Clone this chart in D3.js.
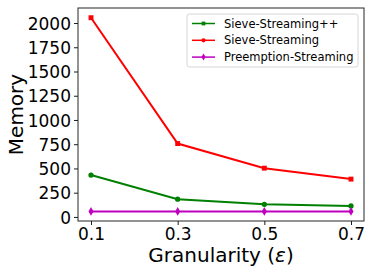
<!DOCTYPE html>
<html>
<head>
<meta charset="utf-8">
<script src="https://cdn.jsdelivr.net/npm/d3@7"></script>
<style>
  body { margin: 0; background: #fff; }
  text { font-family: "DejaVu Sans", sans-serif; }
</style>
</head>
<body>
<script>
// data
const granularity = [0.1, 0.3, 0.5, 0.7];
const tickLabels = ["0.1", "0.3", "0.5", "0.7"];
const sieveStreamingPP = [432, 183, 130, 113];
const sieveStreaming = [2055, 757, 503, 390];
const preemptionStreaming = [57, 57, 57, 57];
const yTicks = [0, 250, 500, 750, 1000, 1250, 1500, 1750, 2000];

const series = [
  { name: "Sieve-Streaming++", values: sieveStreamingPP, color: "#008000", marker: "circle", legendMarker: "square" },
  { name: "Sieve-Streaming", values: sieveStreaming, color: "#ff0000", marker: "square", legendMarker: "circle" },
  { name: "Preemption-Streaming", values: preemptionStreaming, color: "#bf00bf", marker: "diamond", legendMarker: "diamond" }
];

const width = 373, height = 273;
const margin = { left: 78, right: 9, top: 8, bottom: 52 };

const svg = d3.select("body").append("svg")
    .attr("width", width)
    .attr("height", height);

const x = d3.scaleLinear()
    .domain([0.07, 0.73])
    .range([margin.left, width - margin.right]);

const y = d3.scaleLinear()
    .domain([-42, 2155])
    .range([height - margin.bottom, margin.top]);

// axes
const xAxis = svg.append("g")
    .attr("transform", `translate(0,${height - margin.bottom})`)
    .call(d3.axisBottom(x).tickValues(granularity).tickFormat((d, i) => tickLabels[i]).tickSize(4).tickPadding(4));

const yAxis = svg.append("g")
    .attr("transform", `translate(${margin.left},0)`)
    .call(d3.axisLeft(y).tickValues(yTicks).tickFormat(d3.format("d")).tickSize(4).tickPadding(3));

[xAxis, yAxis].forEach(g => {
  g.select(".domain").remove();
  g.selectAll("line").attr("stroke", "#000").attr("stroke-width", 0.9);
  g.selectAll("text").attr("fill", "#000").style("font-size", "17px").style("font-family", "DejaVu Sans");
});
yAxis.selectAll("text").attr("dy", "0.36em");
xAxis.selectAll("text").attr("dy", "0.62em");

// frame
svg.append("rect")
    .attr("x", margin.left)
    .attr("y", margin.top)
    .attr("width", width - margin.left - margin.right)
    .attr("height", height - margin.top - margin.bottom)
    .attr("fill", "none")
    .attr("stroke", "#262626")
    .attr("stroke-width", 1);

const line = d3.line()
    .x((d, i) => x(granularity[i]))
    .y(d => y(d));

const symbolOf = {
  circle: d3.symbol().type(d3.symbolCircle).size(22),
  square: d3.symbol().type(d3.symbolSquare).size(24),
  diamond: d3.symbol().type(d3.symbolDiamond).size(22)
};

series.forEach(s => {
  svg.append("path")
      .datum(s.values)
      .attr("d", line)
      .attr("fill", "none")
      .attr("stroke", s.color)
      .attr("stroke-width", 2);
  svg.selectAll(null)
      .data(s.values)
      .enter().append("path")
      .attr("d", symbolOf[s.marker])
      .attr("transform", (d, i) => `translate(${x(granularity[i])},${y(d)})`)
      .attr("fill", s.color);
});

// legend
const legend = svg.append("g").attr("transform", "translate(187,14)");
legend.append("rect")
    .attr("width", 171)
    .attr("height", 53)
    .attr("rx", 2.5)
    .attr("fill", "#fff")
    .attr("fill-opacity", 0.8)
    .attr("stroke", "#d6d6d6")
    .attr("stroke-width", 1);

series.forEach((s, i) => {
  const ly = 9.5 + i * 16.8;
  legend.append("line")
      .attr("x1", 5).attr("x2", 28)
      .attr("y1", ly).attr("y2", ly)
      .attr("stroke", s.color)
      .attr("stroke-width", 1.5);
  legend.append("path")
      .attr("d", d3.symbol().type(s.legendMarker === "circle" ? d3.symbolCircle : s.legendMarker === "square" ? d3.symbolSquare : d3.symbolDiamond).size(14))
      .attr("transform", `translate(16.5,${ly})`)
      .attr("fill", s.color);
  legend.append("text")
      .attr("x", 37)
      .attr("y", ly)
      .attr("dy", "0.36em")
      .style("font-size", "11.5px")
      .attr("fill", "#000")
      .text(s.name);
});

// axis labels
const xLabel = svg.append("text")
    .attr("x", (margin.left + width - margin.right) / 2)
    .attr("y", 262)
    .attr("text-anchor", "middle")
    .style("font-size", "20px")
    .attr("fill", "#000");
xLabel.append("tspan").text("Granularity (");
xLabel.append("tspan").style("font-style", "italic").text("ε");
xLabel.append("tspan").text(")");

svg.append("text")
    .attr("transform", `translate(23,${(margin.top + height - margin.bottom) / 2}) rotate(-90)`)
    .attr("text-anchor", "middle")
    .style("font-size", "20px")
    .attr("fill", "#000")
    .text("Memory");
</script>
</body>
</html>
